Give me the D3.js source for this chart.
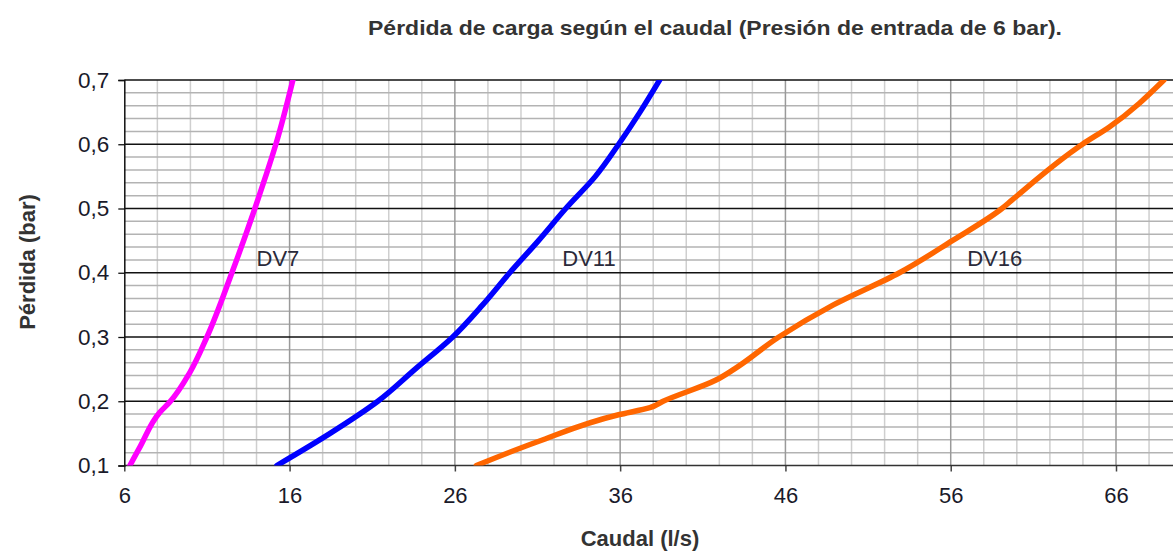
<!DOCTYPE html>
<html><head><meta charset="utf-8">
<script src="https://cdn.jsdelivr.net/npm/d3@7"></script>
<style>body{margin:0;background:#fff}svg{display:block;font-family:Arial,"Liberation Sans",sans-serif}</style>
</head><body><svg id="c" width="1173" height="552"></svg>
<script>
const title = "Pérdida de carga según el caudal (Presión de entrada de 6 bar).";
const xTitle = "Caudal (l/s)";
const yTitle = "Pérdida (bar)";
const xTicks = [6, 16, 26, 36, 46, 56, 66];
const yTicks = [0.1, 0.2, 0.3, 0.4, 0.5, 0.6, 0.7];
const seriesNames = ["DV7", "DV11", "DV16"];
const seriesColors = ["#ff00ff", "#0000ff", "#ff6600"];
const dv7Flow = [6.34, 6.95, 8.16, 8.76, 9.97, 11.0, 12.51, 13.9, 14.55, 15.17, 16.2];
const dv7Loss = [0.10, 0.129, 0.183, 0.199, 0.245, 0.30, 0.40, 0.50, 0.55, 0.60, 0.70];
const dv11Flow = [15.23, 18.45, 21.34, 23.6, 25.87, 27.68, 29.32, 31.06, 32.71, 34.5, 35.91, 37.2, 38.39];
const dv11Loss = [0.10, 0.15, 0.20, 0.25, 0.30, 0.35, 0.40, 0.45, 0.50, 0.55, 0.60, 0.65, 0.70];
const dv16Flow = [27.3, 31.0, 35.9, 37.8, 38.6, 41.8, 42.9, 45.6, 48.9, 52.9, 56.1, 59.1, 59.7, 63.97, 65.6, 68.9];
const dv16Loss = [0.10, 0.137, 0.179, 0.19, 0.20, 0.233, 0.25, 0.30, 0.35, 0.40, 0.45, 0.50, 0.513, 0.60, 0.627, 0.70];
const labelPos = [[14.0, 0.39], [32.5, 0.39], [57.0, 0.39]];

const FONT = "Arial, 'Liberation Sans', sans-serif";
const svg = d3.select("#c");
const x = d3.scaleLinear().domain([6, 66]).range([124.3, 1116]);
const y = d3.scaleLinear().domain([0.1, 0.7]).range([465.5, 80]);

const g = svg.append("g");
const vMinor = d3.range(8, 70, 2).filter(v => (v - 6) % 10 !== 0);
g.selectAll(".vmin").data(vMinor).join("line")
  .attr("x1", d => x(d)).attr("x2", d => x(d)).attr("y1", y(0.7)).attr("y2", y(0.1))
  .attr("stroke", "#cfcfcf").attr("stroke-width", 1.5);
const hMinor = d3.range(0.12, 0.7, 0.02).filter(v => Math.abs(v * 10 - Math.round(v * 10)) > 0.01);
g.selectAll(".hmin").data(hMinor).join("line")
  .attr("x1", x(6)).attr("x2", 1173).attr("y1", d => y(d)).attr("y2", d => y(d))
  .attr("stroke", "#b3b3b3").attr("stroke-width", 1.5);
g.selectAll(".vmaj").data(xTicks.slice(1)).join("line")
  .attr("x1", d => x(d)).attr("x2", d => x(d)).attr("y1", y(0.7)).attr("y2", y(0.1))
  .attr("stroke", "#9a9a9a").attr("stroke-width", 1.5);
g.selectAll(".hmaj").data(yTicks.slice(1)).join("line")
  .attr("x1", x(6)).attr("x2", 1173).attr("y1", d => y(d)).attr("y2", d => y(d))
  .attr("stroke", "#111").attr("stroke-width", 1.3);

const xAxis = d3.axisBottom(x).tickValues(xTicks).tickSize(6).tickPadding(16).tickFormat(d3.format("d"));
const xa = svg.append("g").attr("transform", `translate(0,${y(0.1)})`).call(xAxis);
xa.select(".domain").remove();
xa.append("line").attr("x1", x(6)).attr("x2", 1173).attr("stroke", "#333").attr("stroke-width", 1.5);
xa.selectAll(".tick line").attr("stroke", "#444").attr("stroke-width", 1.5);
xa.selectAll("text").attr("font-size", 22).attr("fill", "#1a1a2a").attr("font-family", FONT);

const yAxis = d3.axisLeft(y).tickValues(yTicks).tickSize(6).tickPadding(9).tickFormat(d => d3.format(".1f")(d).replace(".", ","));
const ya = svg.append("g").attr("transform", `translate(${x(6)},0)`).call(yAxis);
ya.select(".domain").attr("stroke", "#111").attr("stroke-width", 1.5);
ya.selectAll(".tick line").attr("stroke", "#111").attr("stroke-width", 1.3);
ya.selectAll("text").attr("font-size", 22.5).attr("fill", "#1a1a2a").attr("font-family", FONT);

const line = d3.line().x(d => x(d[0])).y(d => y(d[1])).curve(d3.curveMonotoneY);
const series = [d3.zip(dv7Flow, dv7Loss), d3.zip(dv11Flow, dv11Loss), d3.zip(dv16Flow, dv16Loss)];
svg.append("defs").append("clipPath").attr("id", "clip").append("rect")
  .attr("x", x(6)).attr("y", y(0.7)).attr("width", 1173 - x(6)).attr("height", y(0.1) - y(0.7));
svg.append("g").attr("clip-path", "url(#clip)").selectAll("path").data(series).join("path")
  .attr("d", line).attr("fill", "none").attr("stroke", (d, i) => seriesColors[i])
  .attr("stroke-width", 5.5).attr("stroke-linejoin", "round").attr("stroke-linecap", "round");

svg.selectAll(".lab").data(seriesNames).join("text")
  .attr("x", (d, i) => x(labelPos[i][0])).attr("y", 266)
  .attr("font-size", 22).attr("fill", "#2a2a3a").text(d => d);

svg.append("text").attr("x", 715).attr("y", 35).attr("text-anchor", "middle")
  .attr("font-size", 21).attr("font-weight", "bold").attr("fill", "#333")
  .attr("textLength", 694).attr("lengthAdjust", "spacingAndGlyphs").text(title);
svg.append("text").attr("x", 640).attr("y", 546).attr("text-anchor", "middle")
  .attr("font-size", 22).attr("font-weight", "bold").attr("fill", "#333").text(xTitle);
svg.append("text").attr("transform", "translate(35,262) rotate(-90)").attr("text-anchor", "middle")
  .attr("font-size", 22).attr("font-weight", "bold").attr("fill", "#333").text(yTitle);
</script></body></html>
